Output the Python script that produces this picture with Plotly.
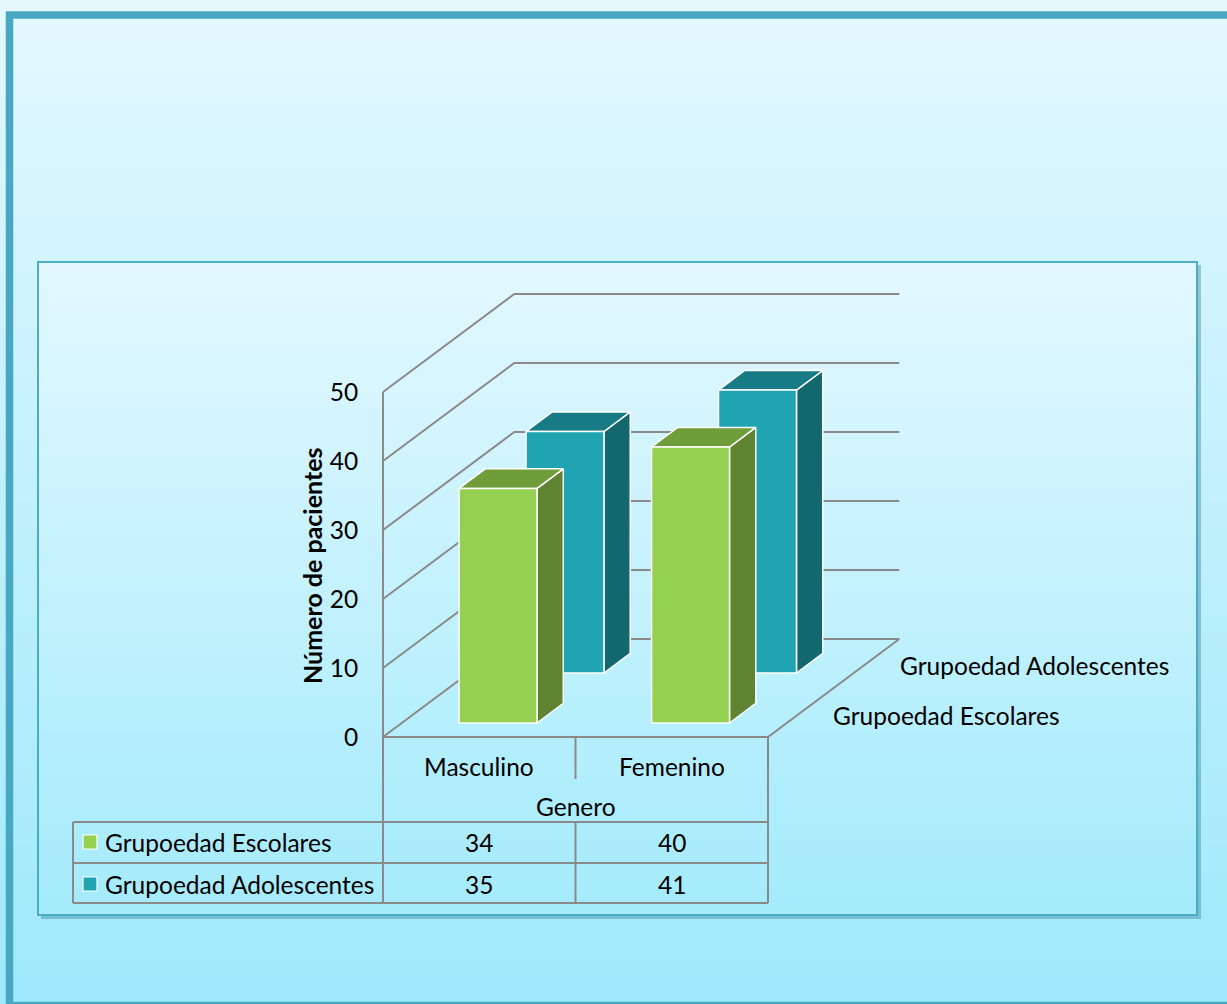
import plotly.graph_objects as go

# ---------------- data ----------------
categories = ["Masculino", "Femenino"]
series_names = ["Grupoedad Escolares", "Grupoedad Adolescentes"]
escolares = [34, 40]
adolescentes = [35, 41]
y_ticks = [0, 10, 20, 30, 40, 50]
axis_title = "Número de pacientes"
category_title = "Genero"

series_values = [escolares, adolescentes]

# ---------------- styles / geometry ----------------
front_colors = ["#94D151", "#20A4B2"]
top_colors = ["#6E9D3A", "#177B86"]
side_colors = ["#5E8432", "#13676F"]
GRID = "#8A8A8A"
FONT = "Lato"
FS = 24.5

W, H = 1227, 1004
X0_PX, CAT_PX = 383, 192.5   # pixel of category origin, pixels per category
Y0_PX, VAL_PX = 737, 6.9     # pixel of value 0, pixels per unit
DX = 131.3 / CAT_PX          # full depth shift (category units)
DY = 98.0 / VAL_PX           # full depth shift (value units)
BAR_W = 0.405
BAR_D = 0.2
ROW_D = [0.143, 0.653]
Y_MAX = max(y_ticks)


def P(x, v, d):
    return x + d * DX, v + d * DY


def xd(px):
    return (px - X0_PX) / CAT_PX


def yd(px):
    return (Y0_PX - px) / VAL_PX


def px_(x):
    return x / W


def py_(y):
    return 1 - y / H


shapes = []


def gradient(x0, y0, x1, y1, ctop, cbot, n=60):
    for k in range(n):
        t = (k + 0.5) / n
        c = tuple(round(a + (b - a) * t) for a, b in zip(ctop, cbot))
        ya = y0 + (y1 - y0) * k / n
        yb = y0 + (y1 - y0) * (k + 1) / n + 0.8
        shapes.append(dict(type="rect", xref="paper", yref="paper", layer="below",
                           x0=px_(x0), x1=px_(x1), y0=py_(ya), y1=py_(yb),
                           line=dict(width=0), fillcolor="rgb(%d,%d,%d)" % c))


# outer background
gradient(0, 0, W, H, (228, 248, 253), (158, 233, 252), 70)
shapes.append(dict(type="rect", xref="paper", yref="paper", layer="below",
                   x0=px_(9.5), x1=px_(W + 20), y0=py_(15), y1=py_(1005.5),
                   line=dict(color="#48A8C4", width=7.5), fillcolor="rgba(0,0,0,0)"))
# inner chart area shadow + fill + border
shapes.append(dict(type="rect", xref="paper", yref="paper", layer="below",
                   x0=px_(41), x1=px_(1201), y0=py_(265), y1=py_(919),
                   line=dict(width=0), fillcolor="rgba(40,110,130,0.35)"))
gradient(38, 262, 1197, 915, (227, 248, 254), (164, 235, 252), 60)
shapes.append(dict(type="rect", xref="paper", yref="paper", layer="below",
                   x0=px_(38), x1=px_(1197), y0=py_(262), y1=py_(915),
                   line=dict(color="#4BACC6", width=2), fillcolor="rgba(0,0,0,0)"))

fig = go.Figure()

# ---------------- walls / grid ----------------
gx, gy = [], []
for t in y_ticks:
    for (x, v, d) in [(0, t, 0), (0, t, 1), (len(categories), t, 1)]:
        a, b = P(x, v, d)
        gx.append(a)
        gy.append(b)
    gx.append(None)
    gy.append(None)
# floor front and right edges
for seg in [[(0, 0, 0), (len(categories), 0, 0), (len(categories), 0, 1)]]:
    for (x, v, d) in seg:
        a, b = P(x, v, d)
        gx.append(a)
        gy.append(b)
    gx.append(None)
    gy.append(None)
# front vertical axis (continues into the data table)
gx += [0, 0, None]
gy += [Y_MAX, yd(903), None]
fig.add_trace(go.Scatter(x=gx, y=gy, mode="lines", line=dict(color=GRID, width=2),
                         hoverinfo="skip", showlegend=False))

# ---------------- 3D bars ----------------
for s in [1, 0]:
    d0 = ROW_D[s]
    d1 = d0 + BAR_D
    for i, v in enumerate(series_values[s]):
        x0 = i + 0.5 - BAR_W / 2
        x1 = i + 0.5 + BAR_W / 2
        faces = [
            ([(x1, 0, d0), (x1, 0, d1), (x1, v, d1), (x1, v, d0)], side_colors[s]),
            ([(x0, v, d0), (x1, v, d0), (x1, v, d1), (x0, v, d1)], top_colors[s]),
            ([(x0, 0, d0), (x1, 0, d0), (x1, v, d0), (x0, v, d0)], front_colors[s]),
        ]
        for pts, col in faces:
            xs, ys = zip(*[P(*p) for p in pts])
            fig.add_trace(go.Scatter(x=list(xs) + [xs[0]], y=list(ys) + [ys[0]],
                                     mode="lines", fill="toself", fillcolor=col,
                                     line=dict(color="white", width=1.5),
                                     name=series_names[s], hoverinfo="skip",
                                     showlegend=False))

annotations = []
font = dict(family=FONT, size=FS, color="black")

# depth axis labels (series names)
for s in range(len(series_names)):
    a, b = P(len(categories), 0, ROW_D[s] + BAR_D / 2)
    annotations.append(dict(x=a, y=b, xref="x", yref="y", text=series_names[s],
                            showarrow=False, xanchor="left", yanchor="middle",
                            xshift=31, yshift=-2, font=font))

# category labels + category axis title
for i, c in enumerate(categories):
    annotations.append(dict(x=i + 0.5, y=yd(766), xref="x", yref="y", text=c,
                            showarrow=False, xanchor="center", yanchor="middle", font=font))
annotations.append(dict(x=len(categories) / 2, y=yd(806), xref="x", yref="y",
                        text=category_title, showarrow=False, xanchor="center",
                        yanchor="middle", font=font))

# y axis title
annotations.append(dict(x=xd(312), y=yd(566), xref="x", yref="y", text="<b>%s</b>" % axis_title,
                        textangle=-90, showarrow=False, xanchor="center", yanchor="middle",
                        font=dict(family=FONT, size=25, color="black")))

# data table
row_y = [842, 884]
for s in range(len(series_names)):
    for i, v in enumerate(series_values[s]):
        annotations.append(dict(x=i + 0.5, y=yd(row_y[s]), xref="x", yref="y", text=str(v),
                                showarrow=False, xanchor="center", yanchor="middle", font=font))
    annotations.append(dict(x=xd(103), y=yd(row_y[s]), xref="x", yref="y", text=series_names[s],
                            showarrow=False, xanchor="left", yanchor="middle", font=font))
    shapes.append(dict(type="rect", xref="x", yref="y",
                       x0=xd(83), x1=xd(97), y0=yd(row_y[s] - 7), y1=yd(row_y[s] + 7),
                       line=dict(color="white", width=1.2), fillcolor=front_colors[s]))

ncat = len(categories)
table_lines = [
    (xd(73), yd(822), ncat, yd(822)),
    (xd(73), yd(863), ncat, yd(863)),
    (xd(73), yd(903), ncat, yd(903)),
    (xd(73), yd(822), xd(73), yd(903)),
    (ncat, 0, ncat, yd(903)),
    (1, 0, 1, yd(779)),
    (1, yd(822), 1, yd(903)),
]
for (a, b, c, d) in table_lines:
    shapes.append(dict(type="line", xref="x", yref="y", x0=a, y0=b, x1=c, y1=d,
                       line=dict(color=GRID, width=2)))

fig.update_layout(
    width=W, height=H,
    margin=dict(l=0, r=0, t=0, b=0, pad=0),
    paper_bgcolor="#D8F5FD",
    plot_bgcolor="rgba(0,0,0,0)",
    showlegend=False,
    xaxis=dict(range=[xd(0), xd(W)], visible=False, fixedrange=True),
    yaxis=dict(range=[yd(H), yd(0)], anchor="free", position=X0_PX / W,
               tickvals=y_ticks, ticks="outside", ticklen=20,
               tickcolor="rgba(0,0,0,0)", showgrid=False, zeroline=False,
               showline=False, automargin=False, fixedrange=True,
               tickfont=dict(family=FONT, size=FS, color="black")),
    shapes=shapes,
    annotations=annotations,
)

fig.write_html("out.html")
